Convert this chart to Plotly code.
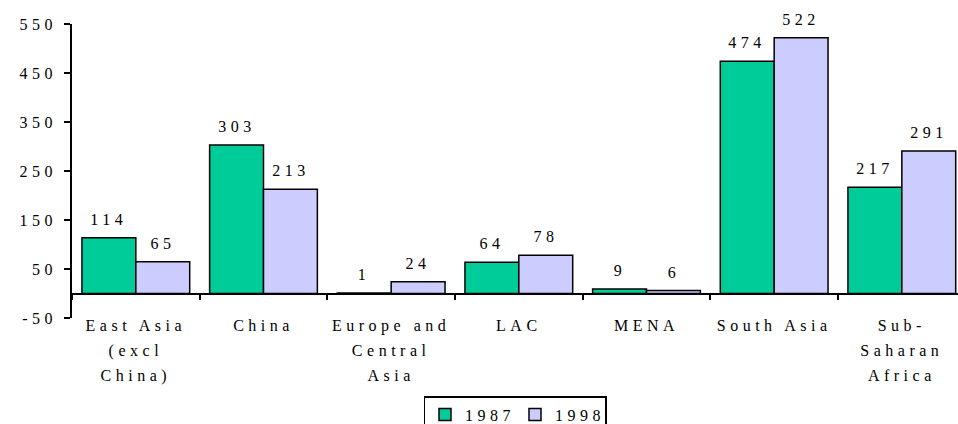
import plotly.graph_objects as go

categories = ["East Asia<br>(excl<br>China)", "China", "Europe and<br>Central<br>Asia", "LAC", "MENA", "South Asia", "Sub-<br>Saharan<br>Africa"]
series_names = ["1987", "1998"]
values_1987 = [114, 303, 1, 64, 9, 474, 217]
values_1998 = [65, 213, 24, 78, 6, 522, 291]
y_tickvals = [-50, 50, 150, 250, 350, 450, 550]
y_ticktext = ["-50", "50", "150", "250", "350", "450", "550"]

colors = ["#00CC99", "#CCCCFF"]
FONT = "Liberation Serif, Times New Roman, Times, serif"
FS = 16

fig = go.Figure()
for name, vals, col in zip(series_names, [values_1987, values_1998], colors):
    fig.add_trace(go.Bar(
        x=categories, y=vals, name=name,
        marker=dict(color=col, line=dict(color="black", width=1.5)),
    ))

annotations = []
for vals, shift in [(values_1987, -27), (values_1998, 27)]:
    for c, v in zip(categories, vals):
        annotations.append(dict(
            x=c, y=v, xref="x", yref="y", text=str(v), showarrow=False,
            xshift=shift, yshift=8, yanchor="bottom",
            font=dict(family=FONT, size=FS, color="black"),
        ))

fig.update_layout(
    width=958, height=424,
    margin=dict(l=72, r=0, t=24, b=106, autoexpand=False),
    paper_bgcolor="white", plot_bgcolor="white",
    barmode="group", bargap=0.156, bargroupgap=0,
    font=dict(family=FONT, size=FS, color="black"),
    showlegend=True,
    legend=dict(
        orientation="h", x=0.5, xanchor="center", xref="paper",
        y=(424 - 396) / 424, yref="container", yanchor="top",
        bordercolor="black", borderwidth=1.5, bgcolor="white",
        font=dict(family=FONT, size=FS, color="black"),
        entrywidth=45, traceorder="normal",
    ),
    annotations=annotations,
    xaxis=dict(
        type="category", range=[-0.5, 6.44],
        anchor="free", position=1 / 12, automargin=False,
        showline=True, linecolor="black", linewidth=1.5,
        ticks="outside", tickson="boundaries", ticklen=6, tickwidth=1.5, tickcolor="black",
        showgrid=False, zeroline=False,
        ticklabelstandoff=18,
        tickfont=dict(family=FONT, size=FS, color="black"),
    ),
    yaxis=dict(
        range=[-50, 550], tickvals=y_tickvals, ticktext=y_ticktext, automargin=False,
        showline=True, linecolor="black", linewidth=1.5,
        ticks="outside", ticklen=6, tickwidth=1.5, tickcolor="black",
        showgrid=False, zeroline=False,
        ticklabelstandoff=4,
        tickfont=dict(family=FONT, size=FS, color="black"),
    ),
)

post = """
var s = document.createElement('style');
s.innerHTML = 'html, body {margin: 0; padding: 0;} .xtick text, .ytick text, .annotation-text, .legendtext {letter-spacing: 4.5px;}';
document.head.appendChild(s);
document.querySelectorAll('.xtick text').forEach(function(t){
  t.querySelectorAll('tspan.line').forEach(function(ts){
    var dy = ts.getAttribute('dy');
    if (dy) {
      var v = parseFloat(dy);
      var unit = dy.replace(/[-0-9.]/g, '');
      if (v) ts.setAttribute('dy', (v * 1.19) + unit);
    }
  });
});
"""
fig.write_html("out.html", post_script=post, config={"displayModeBar": False})
